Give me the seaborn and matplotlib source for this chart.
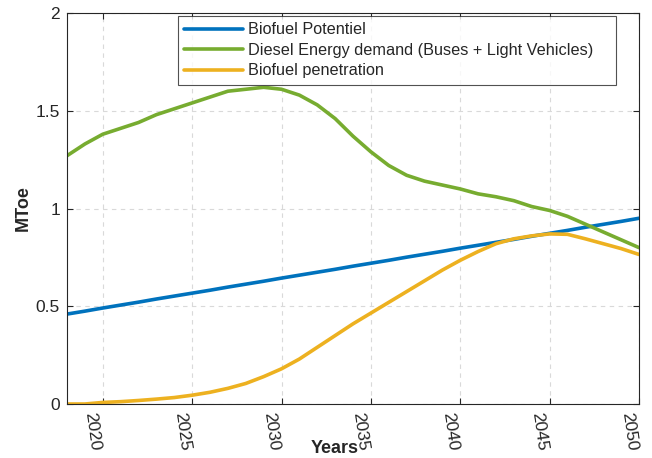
import numpy as np
import pandas as pd
import matplotlib
matplotlib.use("Agg")
import matplotlib.pyplot as plt
import seaborn as sns

years = list(range(2018, 2051))

biofuel_potential = [0.460, 0.475, 0.491, 0.506, 0.521, 0.537, 0.552, 0.567,
                     0.582, 0.598, 0.613, 0.628, 0.644, 0.659, 0.674, 0.689,
                     0.705, 0.720, 0.735, 0.751, 0.766, 0.781, 0.797, 0.812,
                     0.827, 0.842, 0.858, 0.873, 0.888, 0.904, 0.919, 0.934,
                     0.950]

diesel_demand = [1.27, 1.33, 1.38, 1.41, 1.44, 1.48, 1.51, 1.54,
                 1.57, 1.60, 1.61, 1.62, 1.61, 1.58, 1.53, 1.46,
                 1.37, 1.29, 1.22, 1.17, 1.14, 1.12, 1.10, 1.075,
                 1.06, 1.04, 1.01, 0.99, 0.96, 0.92, 0.88, 0.84,
                 0.80]

biofuel_penetration = [0.0, 0.0, 0.008, 0.012, 0.018, 0.025, 0.033, 0.045,
                       0.06, 0.08, 0.105, 0.14, 0.18, 0.23, 0.29, 0.35,
                       0.41, 0.465, 0.52, 0.575, 0.63, 0.685, 0.735, 0.78,
                       0.82, 0.845, 0.86, 0.87, 0.868, 0.845, 0.82, 0.795,
                       0.765]

series_names = ["Biofuel Potentiel",
                "Diesel Energy demand (Buses + Light Vehicles)",
                "Biofuel penetration"]
series_colors = ["#0072BD", "#77AC30", "#EDB120"]

x_ticks = [2020, 2025, 2030, 2035, 2040, 2045, 2050]
y_ticks = [0, 0.5, 1, 1.5, 2]
y_tick_labels = ["0", "0.5", "1", "1.5", "2"]

df = pd.DataFrame({
    "Years": years * 3,
    "MToe": biofuel_potential + diesel_demand + biofuel_penetration,
    "series": [series_names[0]] * len(years)
              + [series_names[1]] * len(years)
              + [series_names[2]] * len(years),
})

sns.set_style("white")
plt.rcParams["font.family"] = ["Liberation Sans", "DejaVu Sans"]

fig = plt.figure(figsize=(6.52, 4.58), dpi=100)
ax = fig.add_axes([0.1028, 0.1179, 0.8772, 0.8537])

sns.lineplot(data=df, x="Years", y="MToe", hue="series",
             hue_order=series_names, palette=series_colors,
             linewidth=2.6, ax=ax)

ax.set_xlim(2018, 2050)
ax.set_ylim(0, 2)
ax.set_xticks(x_ticks)
ax.set_xticklabels([str(t) for t in x_ticks], rotation=-82, ha="right",
                   va="top", fontsize=12.5, color="#262626")
ax.set_yticks(y_ticks)
ax.set_yticklabels(y_tick_labels, fontsize=12.5, color="#262626")

ax.grid(True, linestyle=(0, (4, 4)), color="#d9d9d9", linewidth=0.8)
ax.tick_params(direction="in", length=4, width=0.8, color="#262626",
               top=True, right=True, bottom=True, left=True, pad=5)
for s in ax.spines.values():
    s.set_color("#262626")
    s.set_linewidth(0.8)

ax.set_xlabel("Years", fontsize=13, fontweight="bold")
ax.xaxis.set_label_coords(0.4685, -0.092)
ax.set_ylabel("MToe", fontsize=13, fontweight="bold", labelpad=3)

leg = ax.legend(loc="upper left", bbox_to_anchor=(0.194, 0.824, 0.766, 0.168),
                mode="expand", borderaxespad=0, fontsize=11.7, frameon=True,
                fancybox=False, edgecolor="#262626", handlelength=3.6,
                handletextpad=0.3, labelspacing=0.34, borderpad=0.38,
                title=None)
leg.get_frame().set_linewidth(0.8)
for line in leg.get_lines():
    line.set_linewidth(2.6)

fig.savefig("out.png", dpi=100)
